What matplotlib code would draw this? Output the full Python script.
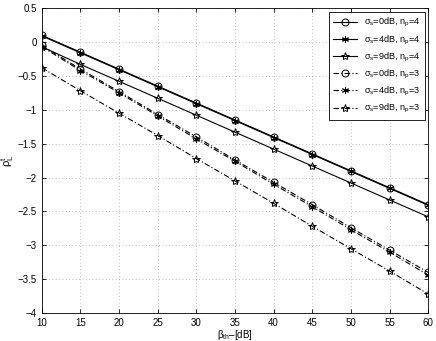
import matplotlib
matplotlib.use("Agg")
import matplotlib.pyplot as plt
import numpy as np

beta = [10, 15, 20, 25, 30, 35, 40, 45, 50, 55, 60]
s0_np4 = [0.10, -0.15, -0.40, -0.65, -0.90, -1.15, -1.40, -1.65, -1.90, -2.15, -2.40]
s4_np4 = [0.09, -0.16, -0.41, -0.66, -0.91, -1.16, -1.41, -1.66, -1.91, -2.16, -2.41]
s9_np4 = [-0.07, -0.33, -0.58, -0.83, -1.08, -1.33, -1.58, -1.83, -2.08, -2.33, -2.58]
s0_np3 = [-0.05, -0.40, -0.73, -1.07, -1.40, -1.74, -2.07, -2.40, -2.74, -3.07, -3.40]
s4_np3 = [-0.07, -0.42, -0.75, -1.09, -1.43, -1.76, -2.10, -2.43, -2.77, -3.10, -3.44]
s9_np3 = [-0.38, -0.72, -1.05, -1.38, -1.72, -2.05, -2.38, -2.72, -3.05, -3.38, -3.72]

labels = [r'$\sigma_s$=0dB, n$_p$=4', r'$\sigma_s$=4dB, n$_p$=4', r'$\sigma_s$=9dB, n$_p$=4',
          r'$\sigma_s$=0dB, n$_p$=3', r'$\sigma_s$=4dB, n$_p$=3', r'$\sigma_s$=9dB, n$_p$=3']

plt.rcParams['font.family'] = ['Liberation Sans', 'DejaVu Sans']
plt.rcParams['mathtext.fontset'] = 'custom'
plt.rcParams['mathtext.rm'] = 'Liberation Sans'
plt.rcParams['mathtext.it'] = 'Liberation Sans'

fig = plt.figure(figsize=(4.36, 3.41), dpi=100)
ax = fig.add_axes([0.096, 0.082, 0.886, 0.894])

series = [s0_np4, s4_np4, s9_np4, s0_np3, s4_np3, s9_np3]
styles = ['-', '-', '-', (0, (5, 2, 1, 2)), (0, (5, 2, 1, 2)), (0, (5, 2, 1, 2))]
markers = ['o', (6, 2, 0), '*', 'o', (6, 2, 0), '*']
msizes = [5, 5, 6, 5, 5, 6]
for y, ls, m, ms, lab in zip(series, styles, markers, msizes, labels):
    ax.plot(beta, y, color='black', linestyle=ls, linewidth=0.8, marker=m,
            markersize=ms, markerfacecolor='none', markeredgecolor='black',
            markeredgewidth=0.7, label=lab)

ax.set_xlim(10, 60)
ax.set_ylim(-4, 0.5)
ax.set_xticks(np.arange(10, 61, 5))
ax.set_yticks(np.arange(-4, 0.51, 0.5))
ax.set_yticklabels(['\u22124', '\u22123.5', '\u22123', '\u22122.5', '\u22122', '\u22121.5', '\u22121', '\u22120.5', '0', '0.5'])
ax.grid(True, linestyle=(0, (1, 3)), color='#aaaaaa', linewidth=0.6)
ax.tick_params(direction='in', top=True, right=True, labelsize=7, length=3, width=0.6)
for sp in ax.spines.values():
    sp.set_linewidth(0.6)
ax.set_xlabel(r'$\beta_{th}$' + '\u2013[dB]', fontsize=7, labelpad=0)
ax.set_ylabel(r'$\rho_L^t$', fontsize=8, labelpad=1)

leg = ax.legend(loc='upper right', fontsize=6.5, frameon=True, fancybox=False,
                edgecolor='black', framealpha=1, handlelength=2.6,
                borderaxespad=0.4, labelspacing=0.45, borderpad=0.5)
leg.get_frame().set_linewidth(0.6)

fig.savefig('out.png', dpi=100)
